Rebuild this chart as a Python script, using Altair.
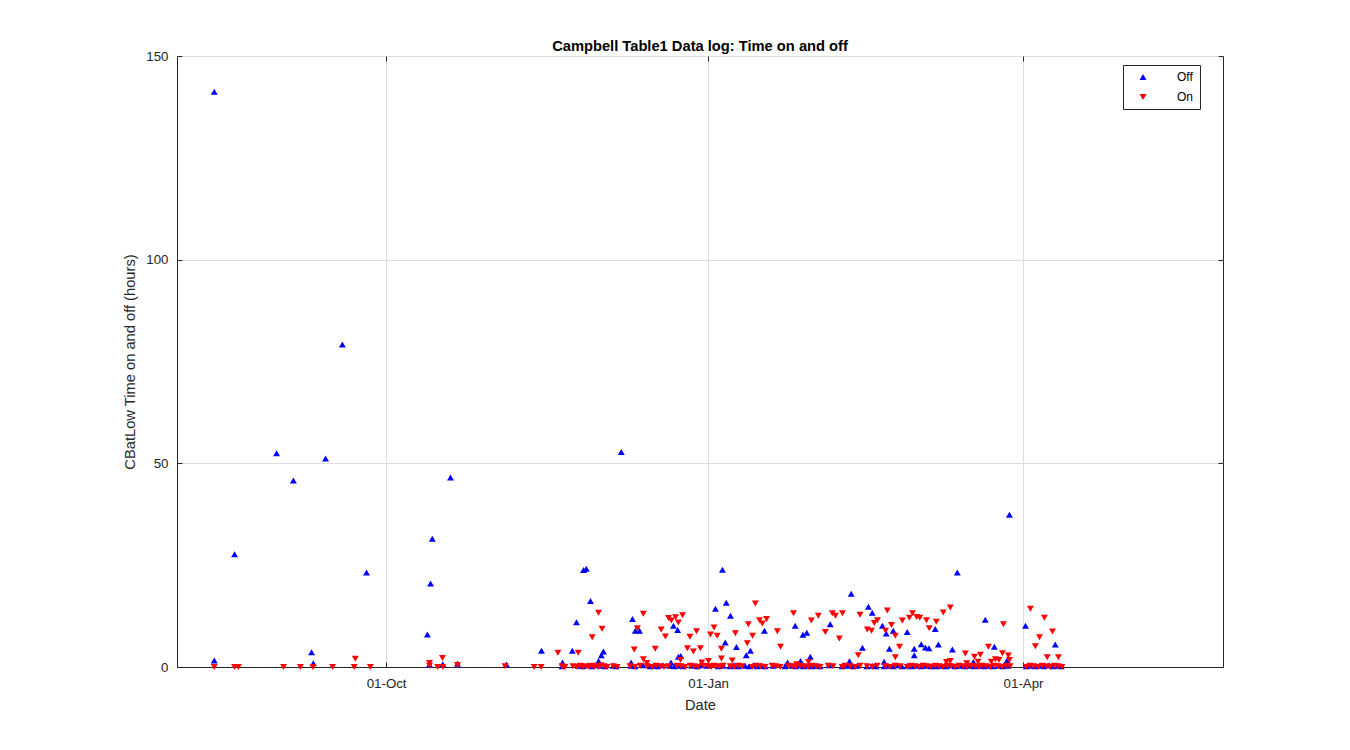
import altair as alt
import pandas as pd

# ---------------- data ----------------
title_text = "Campbell Table1 Data log: Time on and off"
x_title = "Date"
y_title = "CBatLow Time on and off (hours)"
series_names = ["Off", "On"]
series_colors = ["#0000ff", "#ff0000"]
series_shapes = ["triangle-up", "triangle-down"]
y_ticks = [0, 50, 100, 150]
x_tick_dates = [(2016, 10, 1), (2017, 1, 1), (2017, 4, 1)]
x_domain = [(2016, 8, 2, 6), (2017, 5, 28, 3)]

# time of each sample, in days after 2016-08-02 00:00
start_date = "2016-08-02"

off_days = [10.9, 10.9, 16.7, 28.7, 33.5, 38.7, 39.2, 42.7, 47.5, 54.4,
            71.8, 72.4, 72.7, 73.2, 76.2, 78.4, 80.4, 94.4, 104.4, 110.3,
            110.4, 113.2, 114.4, 114.9, 116.3, 116.4, 117.2, 117.7, 118.4, 118.9,
            120.0, 120.7, 121.1, 121.5, 122.1, 122.6, 124.9, 125.7, 127.2, 130.0,
            130.0, 130.4, 131.1, 131.2, 132.4, 133.4, 135.4, 136.6, 137.7, 139.1,
            141.1, 141.4, 142.1, 142.3, 143.3, 143.5, 144.0, 144.2, 144.9, 147.4,
            148.9, 149.7, 151.7, 154.1, 154.9, 156.1, 156.3, 156.9, 157.2, 158.3,
            158.4, 159.4, 160.1, 160.6, 162.6, 162.9, 163.7, 164.1, 164.9, 166.0,
            167.1, 168.1, 168.3, 170.6, 174.0, 174.7, 176.0, 176.9, 177.1, 178.3,
            178.4, 179.1, 179.2, 180.2, 180.3, 181.2, 181.7, 182.9, 184.0, 186.6,
            186.9, 190.3, 192.0, 192.4, 192.9, 193.4, 194.6, 196.1, 197.4, 197.8,
            198.9, 198.9, 200.0, 201.8, 202.3, 202.3, 202.9, 203.4, 203.8, 204.9,
            204.9, 206.0, 207.4, 208.9, 208.9, 210.3, 210.9, 210.9, 211.7, 212.9,
            212.9, 214.1, 214.3, 215.1, 215.7, 216.9, 216.9, 217.4, 217.8, 218.6,
            220.0, 221.4, 221.8, 222.6, 223.2, 224.0, 225.4, 226.6, 227.8, 228.0,
            229.4, 230.9, 231.2, 232.0, 233.4, 233.8, 234.9, 236.3, 237.5, 237.7,
            238.1, 242.7, 242.9, 244.0, 245.4, 246.9, 248.0, 249.4, 250.6, 251.2,
            252.0, 252.9]
off_hours = [141.2, 1.6, 27.7, 52.5, 45.8, 3.6, 0.9, 51.2, 79.2, 23.2,
             8.0, 0.6, 20.5, 31.5, 0.7, 46.5, 0.8, 0.6, 4.0, 0.2,
             1.1, 4.0, 11.0, 0.3, 0.2, 23.8, 24.1, 0.4, 16.2, 0.2,
             0.5, 1.5, 0.3, 2.9, 3.8, 0.2, 0.3, 0.2, 52.8, 1.1,
             0.3, 11.8, 0.2, 8.9, 8.9, 0.4, 0.2, 0.3, 0.2, 0.4,
             0.3, 1.1, 10.1, 0.2, 9.1, 2.5, 0.3, 2.7, 0.2, 0.3,
             0.2, 0.4, 0.3, 14.3, 0.2, 23.9, 0.3, 6.0, 15.8, 0.2,
             12.6, 0.4, 4.9, 0.2, 0.3, 2.9, 0.2, 4.0, 0.4, 0.2,
             0.3, 8.9, 0.2, 0.3, 0.2, 1.1, 0.3, 10.1, 0.2, 0.4,
             1.5, 7.9, 0.2, 8.4, 0.3, 2.5, 0.2, 0.3, 0.2, 0.4,
             10.5, 0.2, 0.3, 1.4, 18.0, 0.2, 0.3, 4.7, 0.2, 14.8,
             13.3, 0.3, 0.2, 10.1, 1.3, 0.2, 8.2, 0.3, 4.5, 8.9,
             0.2, 0.4, 0.2, 8.6, 0.3, 0.2, 4.5, 2.9, 0.3, 5.6,
             0.2, 4.8, 0.3, 4.6, 0.2, 9.3, 0.3, 0.2, 5.5, 0.3,
             0.2, 0.4, 4.3, 0.2, 23.2, 0.3, 0.2, 0.3, 1.2, 0.2,
             0.3, 0.2, 11.6, 0.3, 0.2, 5.0, 0.3, 0.2, 1.7, 0.3,
             37.4, 10.1, 0.2, 0.3, 0.2, 0.3, 0.2, 0.4, 0.2, 5.5,
             0.3, 0.2]

on_days = [10.9, 16.7, 17.8, 30.7, 35.5, 39.1, 44.7, 50.9, 51.2, 55.5,
           72.4, 72.4, 74.7, 76.1, 76.2, 80.4, 94.0, 102.3, 104.3, 109.1,
           110.3, 111.1, 113.4, 114.6, 114.9, 115.4, 116.3, 117.1, 118.0, 118.9,
           118.9, 119.7, 120.6, 120.7, 121.4, 121.7, 122.3, 123.1, 124.9, 126.0,
           129.7, 130.9, 131.1, 131.8, 132.6, 133.5, 133.5, 134.5, 134.6, 136.0,
           136.9, 137.1, 138.3, 138.6, 139.4, 139.8, 140.6, 140.7, 141.5, 142.7,
           143.1, 143.5, 144.1, 144.3, 144.7, 145.4, 146.1, 146.8, 146.9, 147.8,
           148.0, 148.7, 149.1, 149.8, 150.2, 150.6, 152.0, 152.1, 152.7, 152.9,
           153.7, 153.7, 154.6, 154.6, 155.4, 155.8, 155.8, 156.3, 158.3, 158.9,
           159.4, 159.8, 160.6, 161.7, 163.2, 163.5, 164.6, 164.7, 165.5, 165.7,
           166.7, 166.9, 167.5, 168.3, 168.7, 170.3, 171.4, 171.8, 172.6, 172.7,
           174.9, 176.0, 176.4, 177.1, 177.3, 178.3, 179.4, 180.6, 180.7, 181.5,
           181.7, 182.9, 183.5, 184.0, 185.5, 186.3, 187.5, 187.7, 188.4, 189.5,
           190.3, 190.4, 191.1, 192.6, 194.0, 194.9, 195.4, 195.4, 197.4, 197.5,
           198.7, 198.9, 199.5, 200.3, 200.4, 202.6, 202.7, 203.2, 204.0, 204.4,
           205.4, 205.5, 205.5, 206.7, 206.9, 207.5, 208.9, 209.5, 210.0, 210.4,
           211.1, 211.6, 212.3, 212.5, 213.4, 214.4, 214.6, 215.2, 215.7, 216.9,
           217.2, 218.0, 219.1, 219.2, 220.1, 220.3, 221.2, 221.2, 221.4, 222.6,
           223.7, 224.9, 225.5, 225.9, 226.0, 227.1, 228.1, 228.3, 229.1, 229.4,
           229.8, 230.3, 231.4, 232.1, 232.6, 232.9, 233.7, 234.1, 234.9, 235.1,
           236.0, 236.1, 236.4, 237.1, 237.8, 238.1, 238.3, 242.9, 244.0, 244.1,
           245.1, 245.5, 246.3, 246.7, 247.4, 248.1, 248.6, 248.9, 249.7, 250.4,
           250.9, 252.0, 252.1, 253.1]
on_hours = [0.0, 0.0, 0.0, 0.0, 0.0, 0.0, 0.0, 0.0, 2.0, 0.0,
            1.0, 0.3, 0.0, 2.2, 0.0, 0.5, 0.2, 0.0, 0.0, 3.5,
            0.2, 0.0, 0.2, 0.0, 3.5, 0.3, 0.0, 0.2, 0.0, 0.3,
            7.3, 0.2, 0.0, 13.3, 0.4, 9.4, 0.2, 0.0, 0.2, 0.0,
            0.2, 4.3, 0.0, 9.5, 0.3, 13.1, 1.9, 1.0, 0.2, 0.0,
            4.5, 0.3, 0.2, 9.2, 0.0, 7.5, 0.2, 12.0, 11.4, 12.2,
            0.3, 10.9, 1.7, 0.2, 12.7, 0.0, 4.6, 7.4, 0.3, 3.8,
            0.2, 8.8, 0.0, 4.6, 1.1, 0.3, 0.2, 1.5, 8.0, 0.0,
            9.7, 0.3, 7.7, 0.2, 0.0, 4.5, 2.1, 0.3, 0.2, 1.6,
            0.0, 8.3, 0.3, 0.2, 5.8, 10.5, 0.0, 7.7, 15.6, 0.3,
            11.5, 0.2, 10.7, 0.0, 11.8, 0.3, 0.2, 8.8, 0.0, 5.0,
            0.3, 0.2, 13.2, 0.0, 0.7, 0.3, 0.2, 0.0, 1.2, 11.4,
            0.3, 0.2, 12.6, 0.0, 8.6, 0.3, 13.2, 0.2, 12.6, 7.0,
            0.0, 13.2, 0.3, 0.2, 0.0, 2.9, 12.8, 0.3, 0.2, 9.2,
            8.9, 0.0, 10.8, 0.3, 11.5, 0.2, 8.9, 13.9, 0.0, 10.3,
            0.3, 7.7, 2.4, 5.0, 0.2, 11.4, 0.0, 12.1, 0.3, 13.2,
            0.2, 12.3, 0.0, 12.1, 0.3, 11.5, 0.2, 9.5, 0.0, 0.3,
            11.1, 0.2, 0.0, 13.4, 1.2, 0.3, 14.6, 1.5, 0.2, 0.0,
            0.3, 0.2, 3.3, 0.9, 0.0, 0.3, 2.5, 0.2, 1.3, 0.0,
            3.0, 0.3, 0.2, 5.0, 0.0, 1.3, 0.3, 1.9, 0.2, 1.7,
            0.0, 3.4, 10.5, 0.3, 2.8, 1.7, 0.2, 0.0, 0.3, 14.3,
            0.2, 5.1, 0.0, 7.3, 0.3, 12.1, 0.2, 2.4, 0.0, 8.7,
            0.3, 0.2, 2.4, 0.0]

# ---------------- table ----------------
t0 = pd.Timestamp(start_date)
df = pd.DataFrame({
    "date": [t0 + pd.Timedelta(days=d) for d in off_days + on_days],
    "hours": off_hours + on_hours,
    "series": [series_names[0]] * len(off_days) + [series_names[1]] * len(on_days),
})
df["date"] = df["date"].dt.strftime("%Y-%m-%dT%H:%M:%S")

ax_color = "#262626"
tick_values = [alt.DateTime(year=y, month=m, date=d) for (y, m, d) in x_tick_dates]
xscale = alt.Scale(domain=[alt.DateTime(year=y, month=m, date=d, hours=h) for (y, m, d, h) in x_domain], nice=False)
yscale = alt.Scale(domain=[y_ticks[0], y_ticks[-1]], nice=False, zero=False)

main_x_axis = alt.Axis(values=tick_values, format="%d-%b", grid=True, gridColor="#dedede",
                       ticks=False, labelPadding=9, title=x_title, titlePadding=8,
                       domainColor=ax_color, labelFontSize=13.3, titleFontSize=14.7,
                       labelColor=ax_color, titleColor=ax_color, titleFontWeight="normal",
                       labelFlush=False, labelOverlap=False)
main_y_axis = alt.Axis(values=y_ticks, grid=True, gridColor="#dedede",
                       ticks=False, labelPadding=9, title=y_title, titlePadding=8,
                       domainColor=ax_color, labelFontSize=13.3, titleFontSize=14.7,
                       labelColor=ax_color, titleColor=ax_color, titleFontWeight="normal",
                       labelFlush=False, labelOverlap=False)

def tick_axis(orient, values):
    return alt.Axis(orient=orient, values=values, labels=False, grid=False, domain=False,
                    ticks=True, tickSize=5, tickColor=ax_color, title="", offset=-5)

legend = alt.Legend(title=None, orient="none", legendX=946, legendY=9,
                    strokeColor=ax_color, fillColor="white", padding=6,
                    symbolSize=48, symbolOffset=8, labelOffset=28, rowPadding=8,
                    labelFontSize=12, labelColor="black")

points = alt.Chart(df).mark_point(filled=True, size=48, opacity=1, clip=False).encode(
    x=alt.X("date:T", scale=xscale, axis=main_x_axis),
    y=alt.Y("hours:Q", scale=yscale, axis=main_y_axis),
    color=alt.Color("series:N", scale=alt.Scale(domain=series_names, range=series_colors), legend=legend),
    shape=alt.Shape("series:N", scale=alt.Scale(domain=series_names, range=series_shapes), legend=legend),
)

ticks_bl = alt.Chart(df).mark_point(opacity=0).encode(
    x=alt.X("date:T", scale=xscale, axis=tick_axis("bottom", tick_values)),
    y=alt.Y("hours:Q", scale=yscale, axis=tick_axis("left", y_ticks)),
)
ticks_tr = alt.Chart(df).mark_point(opacity=0).encode(
    x=alt.X("date:T", scale=xscale, axis=tick_axis("top", tick_values)),
    y=alt.Y("hours:Q", scale=yscale, axis=tick_axis("right", y_ticks)),
)

chart = alt.layer(points, ticks_bl, ticks_tr).resolve_axis(
    x="independent", y="independent"
).properties(
    width=1046, height=611,
    autosize=alt.AutoSizeParams(type="none"),
    padding={"left": 169, "top": 48, "right": 100, "bottom": 60},
    title=alt.TitleParams(title_text, fontSize=14.7, fontWeight="bold", color="black",
                          anchor="middle", offset=-5),
).configure(font="Liberation Sans", background="white").configure_view(
    stroke=ax_color, strokeWidth=1
)

chart.save("out.html", embed_options={"renderer": "svg", "actions": False})
